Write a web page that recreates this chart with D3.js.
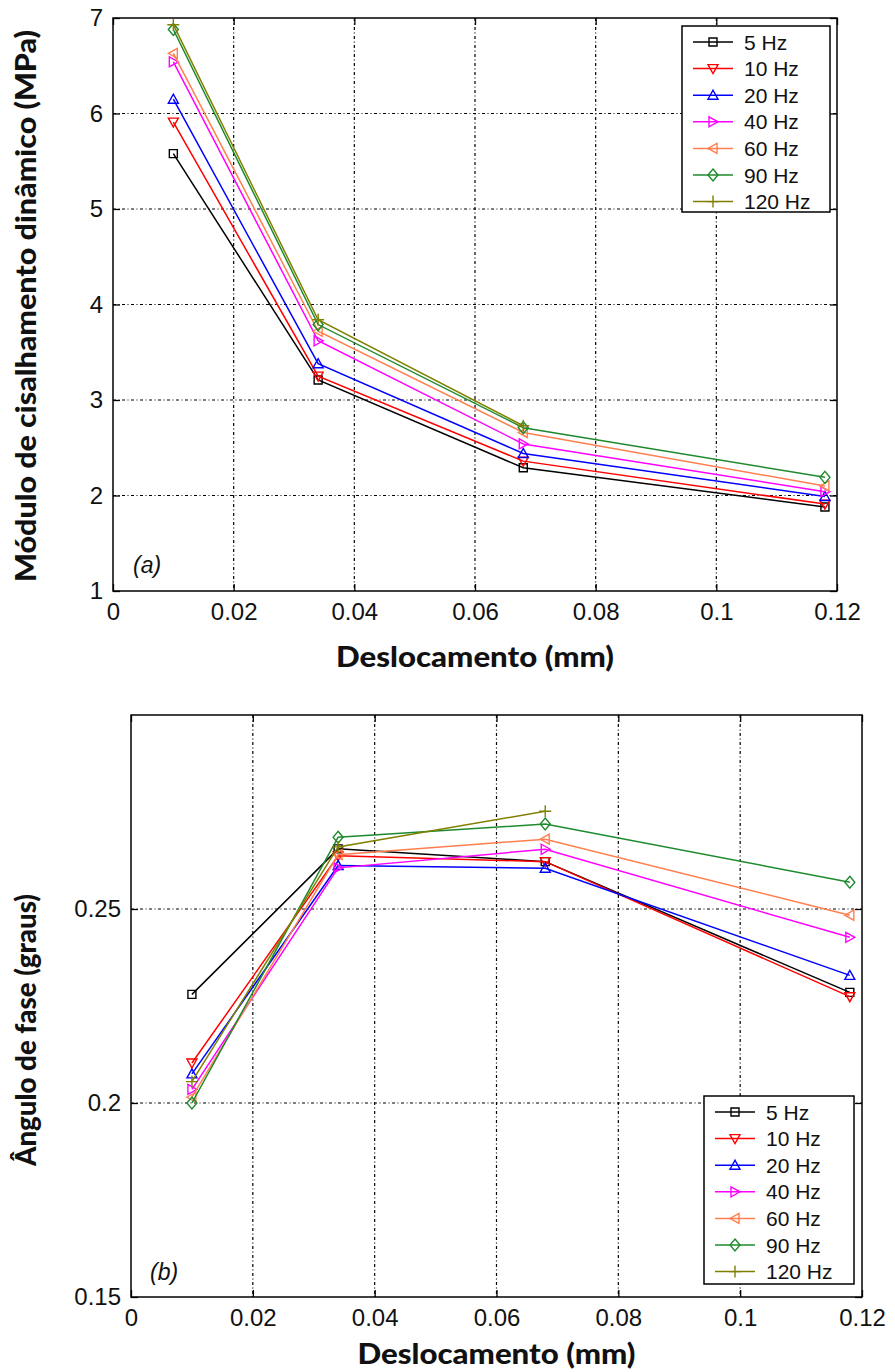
<!DOCTYPE html>
<html>
<head>
<meta charset="utf-8">
<script src="https://cdn.jsdelivr.net/npm/d3@7"></script>
<style>
body { margin: 0; background: #fff; }
text { fill: #111; }
</style>
</head>
<body>
<svg width="895" height="1372"></svg>
<script>
// series names, colours and marker symbols
const freqLabels = ["5 Hz", "10 Hz", "20 Hz", "40 Hz", "60 Hz", "90 Hz", "120 Hz"];
const freqColors = ["#000000", "#ff0000", "#0000ff", "#ff00ff", "#ff7f50", "#1e8a2e", "#808000"];
const freqSymbols = ["square", "down", "up", "right", "left", "diamond", "plus"];

// displacement (mm)
const displacement = [0.01, 0.034, 0.068, 0.118];

// (a) dynamic shear modulus (MPa), one row per frequency
const modulus = [
    [5.58, 3.21, 2.29, 1.88],
    [5.91, 3.25, 2.36, 1.91],
    [6.15, 3.38, 2.44, 1.99],
    [6.54, 3.62, 2.54, 2.04],
    [6.63, 3.72, 2.66, 2.10],
    [6.88, 3.79, 2.71, 2.19],
    [6.93, 3.84, 2.73]
];

// (b) phase angle (graus), one row per frequency
const phase = [
    [0.228, 0.2655, 0.2622, 0.2285],
    [0.2103, 0.2637, 0.2622, 0.2274],
    [0.2075, 0.2612, 0.2605, 0.2329],
    [0.2035, 0.2606, 0.2654, 0.2427],
    [0.2015, 0.2640, 0.2680, 0.2484],
    [0.2000, 0.2685, 0.2719, 0.2569],
    [0.2055, 0.2660, 0.2752]
];

// tick labels
const xTicks = [0, 0.02, 0.04, 0.06, 0.08, 0.1, 0.12];
const modulusTicks = [1, 2, 3, 4, 5, 6, 7];
const phaseTicks = [0.15, 0.2, 0.25];

const svg = d3.select("svg");

// marker shapes centred on 0,0
function markerPath(sym) {
    switch (sym) {
        case "square": return "M-4,-4H4V4H-4Z";
        case "down": return "M-5,-4H5L0,5Z";
        case "up": return "M-5,4H5L0,-5Z";
        case "right": return "M-4,-5L5,0L-4,5Z";
        case "left": return "M4,-5L-5,0L4,5Z";
        case "diamond": return "M0,-6L5,0L0,6L-5,0Z";
        case "plus": return "M-6,0H6M0,-6V6";
    }
}

function drawPanel(opt) {
    const g = svg.append("g");
    const x = d3.scaleLinear().domain([0, 0.12]).range([opt.left, opt.right]);
    const y = d3.scaleLinear().domain(opt.yDomain).range([opt.bottom, opt.top]);

    // grid
    g.selectAll(".vgrid")
        .data(xTicks.slice(1, -1))
        .enter().append("line")
        .attr("x1", d => x(d)).attr("x2", d => x(d))
        .attr("y1", opt.top).attr("y2", opt.bottom)
        .attr("stroke", "#000").attr("stroke-width", 1.2)
        .attr("stroke-dasharray", "3,2.5,1,2.5");
    g.selectAll(".hgrid")
        .data(opt.gridY)
        .enter().append("line")
        .attr("x1", opt.left).attr("x2", opt.right)
        .attr("y1", d => y(d)).attr("y2", d => y(d))
        .attr("stroke", "#000").attr("stroke-width", 1.2)
        .attr("stroke-dasharray", "3,2.5,1,2.5");

    // axes with inward ticks on all four sides
    const tickLen = 7;
    g.append("g").attr("transform", `translate(0,${opt.bottom})`)
        .call(d3.axisBottom(x).tickValues(xTicks).tickSizeInner(-tickLen).tickSizeOuter(0).tickPadding(12)
            .tickFormat(d => d === 0 ? "0" : String(+d.toFixed(2))));
    g.append("g").attr("transform", `translate(0,${opt.top})`)
        .call(d3.axisTop(x).tickValues(xTicks).tickSizeInner(-tickLen).tickSizeOuter(0).tickFormat(""));
    g.append("g").attr("transform", `translate(${opt.left},0)`)
        .call(d3.axisLeft(y).tickValues(opt.yTicks).tickSizeInner(-tickLen).tickSizeOuter(0).tickPadding(10)
            .tickFormat(d => String(+d.toFixed(2))));
    g.append("g").attr("transform", `translate(${opt.right},0)`)
        .call(d3.axisRight(y).tickValues(opt.yTicks).tickSizeInner(-tickLen).tickSizeOuter(0).tickFormat(""));
    g.selectAll(".domain").remove();
    g.selectAll(".tick line").attr("stroke", "#000").attr("stroke-width", 1.3);
    g.selectAll(".tick text")
        .attr("font-family", "Liberation Sans, Arial, sans-serif")
        .attr("font-size", 24)
        .attr("fill", "#111");
    g.append("rect")
        .attr("x", opt.left).attr("y", opt.top)
        .attr("width", opt.right - opt.left).attr("height", opt.bottom - opt.top)
        .attr("fill", "none").attr("stroke", "#000").attr("stroke-width", 1.5);

    // series
    const line = d3.line().x((d, i) => x(displacement[i])).y(d => y(d));
    opt.data.forEach((vals, s) => {
        g.append("path")
            .datum(vals)
            .attr("d", line)
            .attr("fill", "none")
            .attr("stroke", freqColors[s])
            .attr("stroke-width", 1.5);
        g.selectAll(".m" + s)
            .data(vals)
            .enter().append("path")
            .attr("transform", (d, i) => `translate(${x(displacement[i])},${y(d)})`)
            .attr("d", markerPath(freqSymbols[s]))
            .attr("fill", "none")
            .attr("stroke", freqColors[s])
            .attr("stroke-width", 1.4);
    });

    // panel tag
    g.append("text")
        .attr("x", opt.tag[1]).attr("y", opt.tag[2])
        .attr("font-family", "Liberation Sans, Arial, sans-serif")
        .attr("font-style", "italic")
        .attr("font-size", 23)
        .text(opt.tag[0]);

    // axis titles
    g.append("text")
        .attr("x", (opt.left + opt.right) / 2).attr("y", opt.xTitleY)
        .attr("text-anchor", "middle")
        .attr("font-family", "Lato, sans-serif").attr("font-weight", "900")
        .attr("font-size", 28)
        .attr("textLength", 278).attr("lengthAdjust", "spacingAndGlyphs")
        .text("Deslocamento (mm)");
    g.append("text")
        .attr("transform", `translate(${opt.yTitleX},${opt.yTitleMid}) rotate(-90)`)
        .attr("text-anchor", "middle")
        .attr("font-family", "Lato, sans-serif").attr("font-weight", "900")
        .attr("font-size", 28)
        .attr("textLength", opt.yTitleLen).attr("lengthAdjust", "spacingAndGlyphs")
        .text(opt.yTitle);

    // legend
    const lg = g.append("g").attr("transform", `translate(${opt.legend[0]},${opt.legend[1]})`);
    lg.append("rect")
        .attr("width", opt.legend[2]).attr("height", opt.legend[3])
        .attr("fill", "#fff").attr("stroke", "#000").attr("stroke-width", 1.5);
    const rows = lg.selectAll(".row")
        .data(freqLabels)
        .enter().append("g")
        .attr("transform", (d, i) => `translate(0,${16 + i * 26.6})`);
    rows.append("line")
        .attr("x1", 11).attr("x2", 51)
        .attr("stroke", (d, i) => freqColors[i]).attr("stroke-width", 1.5);
    rows.append("path")
        .attr("transform", "translate(31,0)")
        .attr("d", (d, i) => markerPath(freqSymbols[i]))
        .attr("fill", "none")
        .attr("stroke", (d, i) => freqColors[i]).attr("stroke-width", 1.4);
    rows.append("text")
        .attr("x", 62).attr("dy", "0.36em")
        .attr("font-family", "Liberation Sans, Arial, sans-serif")
        .attr("font-size", 21)
        .text(d => d);
}

drawPanel({
    left: 113, right: 837, top: 18, bottom: 591,
    yDomain: [1, 7], yTicks: modulusTicks, gridY: [2, 3, 4, 5, 6],
    data: modulus,
    tag: ["(a)", 133, 573],
    xTitleY: 667, yTitleX: 36, yTitleMid: 306, yTitleLen: 552,
    yTitle: "Módulo de cisalhamento dinâmico (MPa)",
    legend: [682, 26, 148, 186]
});

drawPanel({
    left: 131, right: 862, top: 715, bottom: 1297,
    yDomain: [0.15, 0.3], yTicks: phaseTicks, gridY: [0.2, 0.25],
    data: phase,
    tag: ["(b)", 150, 1280],
    xTitleY: 1364, yTitleX: 36, yTitleMid: 1030, yTitleLen: 272,
    yTitle: "Ângulo de fase (graus)",
    legend: [704, 1096, 150, 188]
});
</script>
</body>
</html>
